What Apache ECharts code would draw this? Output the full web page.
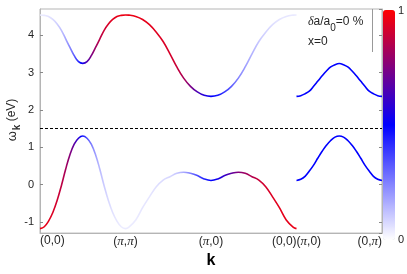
<!DOCTYPE html>
<html><head><meta charset="utf-8">
<script src="https://cdn.jsdelivr.net/npm/echarts@6/dist/echarts.min.js"></script>
<style>html,body{margin:0;padding:0;background:#fff}#c{width:407px;height:274px}</style>
</head><body><div id="c"></div>
<script>
// high-symmetry path ticks
const kTicks = [0, 1, 2, 3, 4];
const kTickLabels = ['(0,0)', '({p|π},{p|π})', '({p|π},0)', '(0,0)({p|π},0)', '(0,{p|π})'];

// path (0,0)->(pi,pi)->(pi,0)->(0,0)
const kPath = [0,0.05,0.1,0.15,0.2,0.25,0.3,0.35,0.4,0.45,0.5,0.55,0.6,0.65,0.7,0.75,0.8,0.85,0.9,0.95,1.0,
  1.04,1.12,1.2,1.28,1.36,1.44,1.52,1.6,1.68,1.76,1.84,1.92,2.0,
  2.08,2.16,2.24,2.32,2.4,2.48,2.56,2.64,2.72,2.8,2.88,2.96,3.0];
const upperBand = [4.54,4.53,4.50,4.42,4.30,4.13,3.90,3.67,3.45,3.29,3.245,3.29,3.45,3.67,3.90,4.13,4.30,4.42,4.50,4.53,4.54,
  4.535,4.50,4.42,4.28,4.08,3.83,3.50,3.15,2.85,2.63,2.48,2.39,2.36,
  2.39,2.48,2.63,2.85,3.15,3.50,3.83,4.08,4.28,4.42,4.50,4.535,4.54];
const lowerBand = [-1.18,-1.13,-0.98,-0.75,-0.43,-0.03,0.41,0.80,1.08,1.24,1.30,1.24,1.08,0.80,0.41,-0.03,-0.43,-0.75,-0.98,-1.13,-1.18,
  -1.14,-0.95,-0.62,-0.33,-0.06,0.12,0.21,0.30,0.33,0.30,0.24,0.15,0.11,
  0.15,0.24,0.30,0.33,0.30,0.21,0.12,-0.06,-0.33,-0.62,-0.95,-1.14,-1.18];
const upperWeight = [.04,.04,.05,.06,.08,.11,.15,.21,.28,.38,.5,.62,.72,.79,.85,.89,.92,.94,.95,.96,.96,
  .96,.96,.95,.95,.94,.93,.92,.89,.83,.74,.64,.56,.5,
  .45,.38,.30,.23,.18,.14,.10,.08,.06,.05,.05,.04,.04];
const lowerWeight = [.96,.96,.95,.94,.92,.89,.85,.79,.72,.62,.5,.38,.28,.21,.15,.11,.08,.06,.05,.04,.04,
  .04,.04,.05,.05,.06,.07,.08,.11,.17,.26,.36,.44,.5,
  .55,.62,.70,.77,.82,.86,.90,.92,.94,.95,.95,.96,.96];

// path (pi,0)->(0,pi)
const kBoundary = [3,3.05,3.1,3.15,3.2,3.25,3.3,3.35,3.4,3.45,3.5,3.55,3.6,3.65,3.7,3.75,3.8,3.85,3.9,3.95,4.0];
const upperBoundary = [2.36,2.38,2.43,2.50,2.63,2.77,2.91,3.04,3.15,3.21,3.24,3.21,3.15,3.04,2.91,2.77,2.63,2.50,2.43,2.38,2.36];
const lowerBoundary = [0.11,0.14,0.22,0.36,0.52,0.71,0.89,1.05,1.18,1.27,1.30,1.27,1.18,1.05,0.89,0.71,0.52,0.36,0.22,0.14,0.11];
const boundaryWeight = [.5,.5,.5,.5,.5,.5,.5,.5,.5,.5,.5,.5,.5,.5,.5,.5,.5,.5,.5,.5,.5];

const fermiLevel = 1.5;

function bandColor(w){
  let r,g,b;
  if (w <= 0.5) { const t = w/0.5; r = g = Math.round(255*(1-t)); b = 255; }
  else { const t = (w-0.5)/0.5; r = Math.round(255*t); g = 0; b = Math.round(255*(1-t)); }
  return 'rgb(' + r + ',' + g + ',' + b + ')';
}
function weightGradient(ks, ws){
  const k0 = ks[0], k1 = ks[ks.length-1];
  return {type:'linear', x:0, y:0, x2:1, y2:0, global:false,
    colorStops: ks.map((k,i)=>({offset:(k-k0)/(k1-k0), color:bandColor(ws[i])}))};
}
function bandSeries(ks, vs, ws){
  return {type:'line', data: ks.map((k,i)=>[k, vs[i]]), showSymbol:false, smooth:0.4,
    lineStyle:{width:1.6, color: weightGradient(ks, ws)}, silent:true, z:3};
}

const axisGray = '#b5b5b5';
const textCol = '#262626';
const chart = echarts.init(document.getElementById('c'), null, {renderer:'canvas'});
const yCommon = {type:'value', min:-1.3, max:4.7, splitNumber:6, splitLine:{show:false},
  axisLine:{show:true, lineStyle:{color:axisGray}},
  axisTick:{show:true, inside:true, length:3, lineStyle:{color:'#888'}}};
const s1 = bandSeries(kPath, upperBand, upperWeight);
s1.markLine = {silent:true, symbol:['none','none'], label:{show:false},
  lineStyle:{color:'#000', type:[3,2], width:1}, data:[{yAxis: fermiLevel}]};
chart.setOption({
  animation:false,
  grid:{left:40, right:25, top:9, bottom:34, show:true, borderColor:axisGray, borderWidth:1},
  xAxis:{type:'value', min:0, max:4, interval:1, splitLine:{show:false},
    axisLine:{show:true, onZero:false, lineStyle:{color:axisGray}}, axisTick:{show:false},
    axisLabel:{margin:2, fontSize:12, fontFamily:'Liberation Sans', color:textCol,
      alignMinLabel:'left', alignMaxLabel:'right',
      formatter:(v)=>{const i = kTicks.indexOf(v); return i>=0 ? kTickLabels[i] : '';},
      rich:{p:{fontFamily:'Liberation Serif', fontStyle:'italic', fontSize:13, color:textCol}}},
    name:'k', nameLocation:'middle', nameGap:17,
    nameTextStyle:{fontWeight:'bold', fontSize:16, fontFamily:'Liberation Sans', color:'#000'}},
  yAxis:[
    Object.assign({}, yCommon, {position:'left', axisLabel:{fontSize:11, margin:6, fontFamily:'Liberation Sans', color:textCol, showMinLabel:false, showMaxLabel:false}}),
    Object.assign({}, yCommon, {position:'right', axisLabel:{show:false}})
  ],
  visualMap:{type:'continuous', min:0, max:1, orient:'vertical', left:383, top:10,
    itemWidth:12, itemHeight:230, padding:0, calculable:false, hoverLink:false,
    inRange:{color:['#ffffff','#0000ff','#ff0000']}, seriesIndex:4, text:null},
  series:[
    s1,
    bandSeries(kPath, lowerBand, lowerWeight),
    bandSeries(kBoundary, upperBoundary, boundaryWeight),
    bandSeries(kBoundary, lowerBoundary, boundaryWeight),
    {type:'scatter', data:[], silent:true}
  ],
  graphic:[
    {type:'text', x:398, y:11, style:{text:'1', fontSize:11, fontFamily:'Liberation Sans', fill:textCol, verticalAlign:'middle'}},
    {type:'text', x:398, y:240, style:{text:'0', fontSize:11, fontFamily:'Liberation Sans', fill:textCol, verticalAlign:'middle'}},
    {type:'text', x:12, y:120, rotation:Math.PI/2, style:{text:'{w|ω}{k|k}{n| (eV)}', align:'center', verticalAlign:'middle',
      fontSize:12, fontFamily:'Liberation Sans', fill:textCol,
      rich:{w:{fontSize:13, fontFamily:'Liberation Sans', fill:textCol},
            k:{fontSize:10, fontWeight:'bold', fontFamily:'Liberation Sans', fill:textCol, padding:[10,0,0,1]},
            n:{fontSize:12, fontFamily:'Liberation Sans', fill:textCol}}}},
    {type:'text', x:308, y:22, style:{text:'{d|δ}a/a{s|0}=0 %', verticalAlign:'middle', fontSize:12,
      fontFamily:'Liberation Sans', fill:textCol,
      rich:{d:{fontStyle:'italic', fontSize:12, fontFamily:'Liberation Serif', fill:textCol},
            s:{fontSize:10, fontFamily:'Liberation Sans', fill:textCol, padding:[12,0,0,0]}}}},
    {type:'text', x:308, y:42, style:{text:'x=0', verticalAlign:'middle', fontSize:12, fontFamily:'Liberation Sans', fill:textCol}},
    {type:'line', shape:{x1:372.5, y1:9, x2:372.5, y2:52}, style:{stroke:'#999', lineWidth:1}}
  ]
});
</script></body></html>
